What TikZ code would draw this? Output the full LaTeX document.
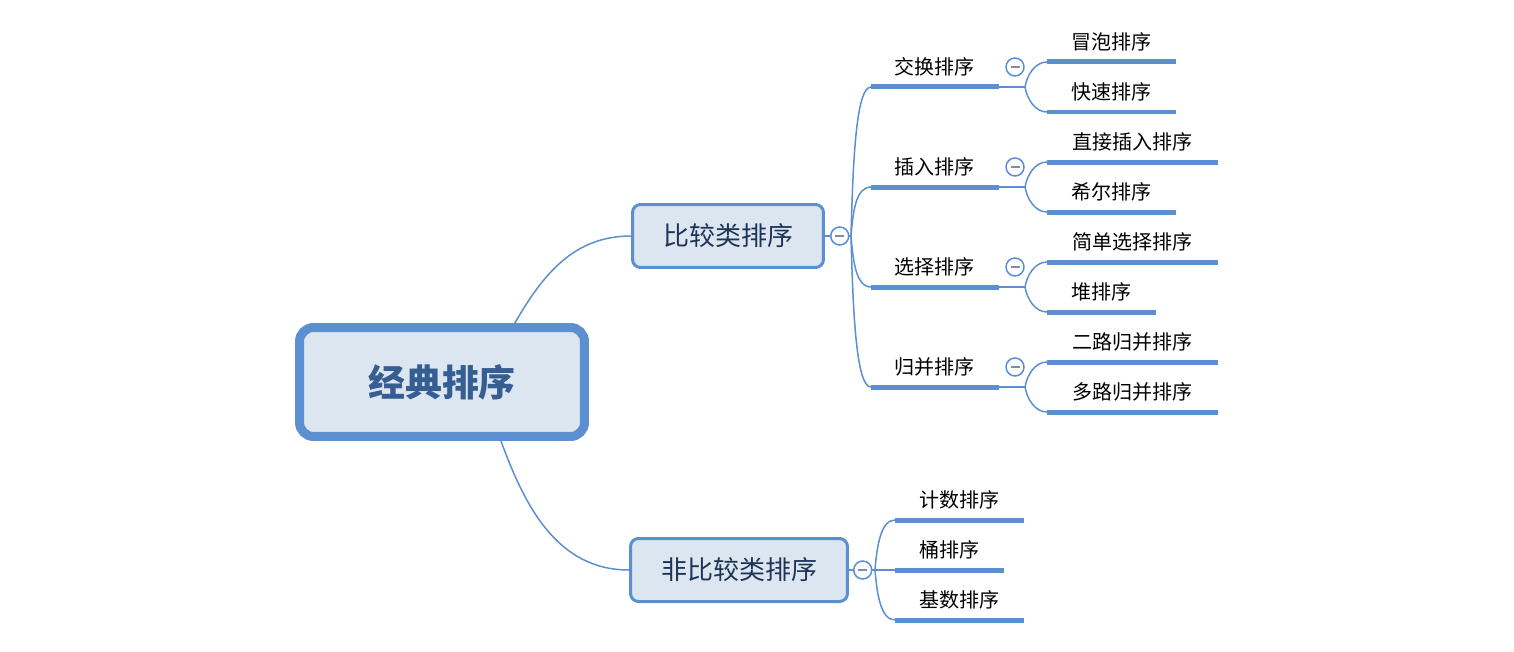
\documentclass[tikz,border=0pt]{standalone}
\usepackage{fontspec}
\setmainfont{Noto Sans CJK SC}
\usepackage{tikz}
\usetikzlibrary{positioning}

\definecolor{mmblue}{RGB}{91,143,208}
\definecolor{mmfill}{RGB}{220,230,241}
\definecolor{mmroot}{RGB}{54,94,146}
\definecolor{mmdark}{RGB}{30,52,86}
\definecolor{mmgrey}{RGB}{125,138,168}

\begin{document}
\begin{tikzpicture}[
    x=0.02cm, y=-0.02cm,
    every node/.style={font=\fontsize{11.4}{13}\selectfont},
    rt/.style={draw=mmblue, line width=0.18cm, fill=mmfill, rounded corners=0.28cm,
               minimum width=5.70cm, minimum height=2.18cm, inner sep=0pt,
               text=mmroot, font=\fontsize{21}{25}\selectfont\bfseries},
    sb/.style={draw=mmblue, line width=0.06cm, fill=mmfill, rounded corners=0.16cm,
               minimum height=1.26cm, inner sep=0pt, text=mmdark,
               font=\fontsize{14.8}{17}\selectfont},
    tp/.style={anchor=south west, minimum height=0.8cm, inner sep=0pt},
    und/.style={draw=mmblue, line width=0.1cm},
    cn/.style={draw=mmblue, line width=0.03cm},
    cl/.style={circle, draw=mmblue, fill=white, line width=0.03cm,
               minimum size=0.36cm, inner sep=0pt,
               path picture={\draw[mmgrey, line width=0.04cm]
                 ([xshift=-0.09cm]path picture bounding box.center) --
                 ([xshift=0.09cm]path picture bounding box.center);}},
  ]
  \useasboundingbox (0,0) rectangle (1514,652);

  % main topics
  \node[rt] (root) at (442,382) {经典排序};
  \node[sb, minimum width=3.82cm] (cmp) at (728,236) {比较类排序};
  \node[sb, minimum width=4.34cm] (ncmp) at (739,570) {非比较类排序};
  \node[cl, right=0.1cm of cmp] (cmpc) {};
  \node[cl, right=0.08cm of ncmp] (ncmpc) {};
  \coordinate (cmpj) at (851,236);
  \coordinate (ncmpj) at (875,570);

  % second level
  \node[tp, minimum width=2.54cm] (swap) at (871,87) {交换排序};
  \node[tp, minimum width=2.54cm] (ins) at (871,187) {插入排序};
  \node[tp, minimum width=2.54cm] (sel) at (871,287) {选择排序};
  \node[tp, minimum width=2.54cm] (mrg) at (871,387) {归并排序};

  % leaves
  \node[tp, minimum width=2.56cm] (bub) at (1047,62) {冒泡排序};
  \node[tp, minimum width=2.56cm] (qck) at (1047,112) {快速排序};
  \node[tp, minimum width=3.40cm] (dir) at (1047,162) {直接插入排序};
  \node[tp, minimum width=2.56cm] (shl) at (1047,212) {希尔排序};
  \node[tp, minimum width=3.40cm] (smp) at (1047,262) {简单选择排序};
  \node[tp, minimum width=2.16cm] (hep) at (1047,312) {堆排序};
  \node[tp, minimum width=3.40cm] (two) at (1047,362) {二路归并排序};
  \node[tp, minimum width=3.40cm] (mul) at (1047,412) {多路归并排序};
  \node[tp, minimum width=2.56cm] (cnt) at (895,520) {计数排序};
  \node[tp, minimum width=2.16cm] (bkt) at (895,570) {桶排序};
  \node[tp, minimum width=2.56cm] (rdx) at (895,620) {基数排序};

  \foreach \n in {swap,ins,sel,mrg,bub,qck,dir,shl,smp,hep,two,mul,cnt,bkt,rdx}
    \draw[und] (\n.south west) -- (\n.south east);

  % collapse marks and joints of second level
  \foreach \y/\n in {87/swap,187/ins,287/sel,387/mrg} {
    \node[cl] (\n c) at (1015,{\y-20}) {};
    \coordinate (\n j) at (1025,\y);
    \draw[cn] (\n.south east) -- (\n j);
  }

  % connectors
  \draw[cn] (root.39) to[out=60, in=180] (cmp.west);
  \draw[cn] (root.-45) to[out=-70, in=180] (ncmp.west);
  \draw[cn] (cmp.east) -- (cmpc);
  \draw[cn] (ncmp.east) -- (ncmpc);
  \draw[cn] (cmpc) -- (cmpj);
  \foreach \n/\d in {swap/-75, ins/-25, sel/25, mrg/75}
    \draw[cn] (cmpj) .. controls +(2,\d) and +(-15,0) .. (\n.south west);
  \draw[cn] (ncmpc) -- (bkt.south west);
  \draw[cn] (ncmpj) .. controls +(2,-25) and +(-14,0) .. (cnt.south west);
  \draw[cn] (ncmpj) .. controls +(2,25) and +(-14,0) .. (rdx.south west);
  \foreach \a/\b/\c in {swap/bub/qck, ins/dir/shl, sel/smp/hep, mrg/two/mul} {
    \draw[cn] (\a j) .. controls +(2,-12) and +(-12,0) .. (\b.south west);
    \draw[cn] (\a j) .. controls +(2,12) and +(-12,0) .. (\c.south west);
  }
\end{tikzpicture}
\end{document}
